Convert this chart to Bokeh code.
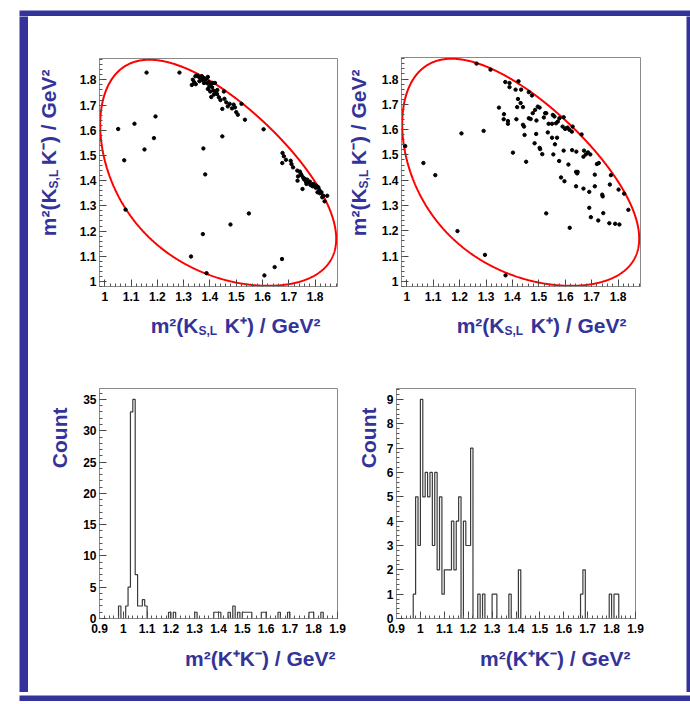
import numpy as np
from bokeh.plotting import figure
from bokeh.layouts import row, column
from bokeh.models import FixedTicker, CustomJSTickFormatter, Range1d, Spacer
from bokeh.core.properties import value
from bokeh.embed import file_html
from bokeh.resources import INLINE

# ---------------- constants (particle masses, GeV) ----------------
M_D0, M_KS, M_K = 1.86484, 0.497611, 0.493677

# ---------------- data ----------------
# top-left Dalitz plot: m2(KS,L K+) vs m2(KS,L K-)
tl_x = [1.051, 1.074, 1.113, 1.159, 1.284, 1.193, 1.187, 1.151, 1.079, 1.375, 1.382, 1.447,
        1.373, 1.328, 1.387, 1.478, 1.548, 1.604, 1.607, 1.646, 1.674, 1.533, 1.520,
        1.331, 1.335, 1.340, 1.345, 1.351, 1.358, 1.364, 1.369, 1.377, 1.377, 1.383, 1.389,
        1.396, 1.405, 1.411, 1.419, 1.392, 1.401, 1.408, 1.413, 1.421, 1.427, 1.434, 1.405,
        1.453, 1.455, 1.462, 1.468, 1.475, 1.484, 1.490, 1.495, 1.500, 1.506, 1.447,
        1.372, 1.360, 1.346, 1.398, 1.415, 1.440, 1.428, 1.392, 1.386,
        1.676, 1.681, 1.675, 1.689, 1.707, 1.710, 1.716, 1.732, 1.742, 1.735, 1.733, 1.748,
        1.754, 1.761, 1.765, 1.770, 1.776, 1.780, 1.782, 1.767, 1.752, 1.793, 1.799, 1.805,
        1.812, 1.816, 1.809, 1.824, 1.831, 1.846, 1.836, 1.827,
        1.745, 1.758, 1.790, 1.802, 1.818]
tl_y = [1.605, 1.481, 1.626, 1.829, 1.829, 1.655, 1.569, 1.524, 1.285, 1.528, 1.425, 1.576,
        1.188, 1.099, 1.033, 1.226, 1.270, 1.604, 1.024, 1.057, 1.089, 1.642, 1.705,
        1.780, 1.801, 1.791, 1.815, 1.817, 1.812, 1.808, 1.815, 1.807, 1.788, 1.801, 1.787,
        1.791, 1.787, 1.788, 1.788, 1.764, 1.754, 1.771, 1.758, 1.754, 1.744, 1.731, 1.732,
        1.754, 1.725, 1.711, 1.695, 1.705, 1.687, 1.702, 1.691, 1.672, 1.662, 1.685,
        1.800, 1.795, 1.783, 1.775, 1.742, 1.720, 1.760, 1.812, 1.805,
        1.510, 1.497, 1.470, 1.483, 1.479, 1.466, 1.453, 1.440, 1.436, 1.417, 1.400, 1.422,
        1.413, 1.407, 1.396, 1.404, 1.393, 1.396, 1.383, 1.387, 1.367, 1.387, 1.380, 1.380,
        1.374, 1.363, 1.354, 1.354, 1.340, 1.340, 1.318, 1.334,
        1.428, 1.405, 1.378, 1.372, 1.350]

# top-right Dalitz plot
tr_x = [0.994, 1.063, 1.108, 1.192, 1.207, 1.291, 1.296, 1.374, 1.264, 1.317, 1.349, 1.528, 1.617,
        1.373, 1.389, 1.389, 1.423, 1.412, 1.433, 1.462, 1.474, 1.421, 1.431, 1.418, 1.440,
        1.368, 1.367, 1.383, 1.383, 1.415, 1.440, 1.444, 1.446, 1.462, 1.469, 1.477, 1.486,
        1.496, 1.503, 1.491, 1.490, 1.484, 1.503, 1.505, 1.513, 1.519, 1.524, 1.528, 1.534,
        1.537, 1.550, 1.553, 1.559, 1.550, 1.561, 1.555, 1.565, 1.572, 1.578, 1.594, 1.590,
        1.599, 1.603, 1.609, 1.616, 1.625, 1.628, 1.662, 1.569, 1.577, 1.597, 1.584, 1.594,
        1.612, 1.626, 1.642, 1.641, 1.647, 1.645, 1.671, 1.678, 1.686, 1.695, 1.669, 1.720,
        1.727, 1.641, 1.669, 1.691, 1.712, 1.712, 1.740, 1.742, 1.769, 1.773, 1.802, 1.823,
        1.839, 1.691, 1.697, 1.725, 1.744, 1.767, 1.789, 1.805, 1.402, 1.452]
tr_y = [1.535, 1.468, 1.420, 1.199, 1.585, 1.595, 1.105, 1.024, 1.861, 1.837, 1.687, 1.269, 1.212,
        1.788, 1.784, 1.768, 1.791, 1.758, 1.758, 1.748, 1.735, 1.721, 1.705, 1.689, 1.689,
        1.661, 1.641, 1.634, 1.623, 1.641, 1.619, 1.612, 1.579, 1.645, 1.642, 1.665, 1.678,
        1.691, 1.687, 1.636, 1.583, 1.546, 1.528, 1.523, 1.503, 1.648, 1.665, 1.665, 1.589,
        1.623, 1.623, 1.658, 1.652, 1.568, 1.542, 1.502, 1.625, 1.632, 1.645, 1.649, 1.612,
        1.603, 1.605, 1.608, 1.599, 1.592, 1.612, 1.581, 1.568, 1.476, 1.396, 1.411, 1.517,
        1.462, 1.519, 1.513, 1.433, 1.433, 1.427, 1.517, 1.502, 1.510, 1.502, 1.493, 1.464,
        1.468, 1.376, 1.367, 1.354, 1.376, 1.422, 1.343, 1.336, 1.383, 1.420, 1.363, 1.347,
        1.283, 1.291, 1.254, 1.241, 1.270, 1.230, 1.228, 1.225, 1.509, 1.473]

# histograms of m2(K+K-): bins of 0.01 GeV2 from 0.9 to 1.9 (lower bin edge -> count)
hist_lo, hist_hi, hist_w = 0.9, 1.9, 0.01
bl_bin_lo = [0.98, 1.01, 1.02, 1.03, 1.04, 1.05, 1.06, 1.07, 1.08, 1.09, 1.19, 1.21, 1.30,
             1.38, 1.39, 1.40, 1.44, 1.46, 1.48, 1.50, 1.51, 1.52, 1.53, 1.58, 1.59, 1.65,
             1.69, 1.78, 1.79, 1.83]
bl_count = [2, 2, 5, 33, 35, 7, 2, 2, 3, 2, 1, 1, 1,
            1, 1, 1, 1, 2, 1, 1, 1, 1, 1, 1, 1, 1,
            1, 1, 1, 1]
br_bin_lo = [0.97, 0.98, 0.99, 1.00, 1.01, 1.02, 1.03, 1.04, 1.05, 1.06, 1.07, 1.08, 1.09,
             1.10, 1.11, 1.12, 1.13, 1.14, 1.15, 1.16, 1.18, 1.19, 1.20, 1.21, 1.24, 1.26,
             1.30, 1.31, 1.37, 1.41, 1.67, 1.68, 1.79, 1.81, 1.82]
br_count = [1, 5, 3, 9, 5, 6, 5, 6, 3, 6, 2, 5, 1,
            2, 2, 2, 4, 2, 4, 5, 4, 3, 3, 7, 1, 1,
            1, 1, 1, 2, 1, 2, 1, 1, 1]

# tick values
dalitz_ticks = [1.0, 1.1, 1.2, 1.3, 1.4, 1.5, 1.6, 1.7, 1.8]
kk_ticks = [0.9, 1.0, 1.1, 1.2, 1.3, 1.4, 1.5, 1.6, 1.7, 1.8, 1.9]
bl_count_ticks = [0, 5, 10, 15, 20, 25, 30, 35]
br_count_ticks = [0, 1, 2, 3, 4, 5, 6, 7, 8, 9]

# axis titles
title_x_head, title_sub, title_x_tail = "m\u00b2(K", "S,L", "K\u207a) / GeV\u00b2"
title_y_head, title_y_tail = "m\u00b2(K", "K\u207b) / GeV\u00b2"
title_kk = "m\u00b2(K\u207aK\u207b) / GeV\u00b2"
title_count = "Count"

# ---------------- style ----------------
BLUE = "#333399"
FONT = "Liberation Sans"
DAL_RANGE = (0.98, 1.885)
F_BIG, F_SUB = 21, 12
V_CORR = -12   # rotated text is drawn this many px right of its nominal baseline

# approximate advance widths (1/1000 em) for Liberation Sans Bold
W = {'m': 889, '(': 333, ')': 333, 'K': 722, 'S': 667, ',': 278, 'L': 611, ' ': 278,
     '/': 278, 'G': 778, 'e': 556, 'V': 667, '\u00b2': 333, '\u207a': 480, '\u207b': 330}


def text_w(s, size):
    return sum(W.get(c, 600) for c in s) * size / 1000.0


def minor_list(lo, hi, step):
    n = int(round((hi - lo) / step))
    return [round(lo + i * step, 4) for i in range(n + 1)]


def make_fig(fw, fh, left, right, top, bottom, xr, yr):
    p = figure(frame_width=fw, frame_height=fh, x_range=Range1d(*xr), y_range=Range1d(*yr),
               output_backend="svg", toolbar_location=None, tools="", title=None,
               min_border_left=left, min_border_right=right,
               min_border_top=top, min_border_bottom=bottom,
               background_fill_color="white", border_fill_color="white",
               outline_line_color="#8a8a8a", outline_line_width=1, frame_align=False)
    p.grid.visible = False
    fmt = CustomJSTickFormatter(code="return String(Math.round(tick*10)/10);")
    for ax in p.axis:
        ax.major_tick_in = 7
        ax.major_tick_out = 0
        ax.minor_tick_in = 3
        ax.minor_tick_out = 0
        ax.axis_line_color = "#8a8a8a"
        ax.major_tick_line_color = "#444444"
        ax.minor_tick_line_color = "#555555"
        ax.major_label_text_font = FONT
        ax.major_label_text_font_style = "bold"
        ax.major_label_text_font_size = "12px"
        ax.major_label_text_color = "black"
        ax.formatter = fmt
    p.xaxis.major_label_standoff = 5
    p.yaxis.major_label_standoff = 3
    return p


def plain_fig(w, h, color="white"):
    p = figure(width=w, height=h, x_range=Range1d(0, w), y_range=Range1d(0, h),
               output_backend="svg", toolbar_location=None, tools="", title=None,
               min_border=0, x_axis_location=None, y_axis_location=None,
               background_fill_color=color, border_fill_color=color, outline_line_color=None,
               frame_align=False)
    p.grid.visible = False
    return p


def put_text(p, x, y, t, size, align, vertical):
    p.text(x=[x], y=[y], text=[t], angle=(np.pi / 2 if vertical else 0.0),
           text_font=value(FONT), text_font_style="bold", text_font_size=value(f"{size}px"),
           text_color=BLUE, text_align=align, text_baseline="alphabetic")


def vtitle_fig(w, h, parts, top_end, base):
    """Rotated title reading bottom-to-top; top end at `top_end` px from the figure top,
    baseline at `base` px from the figure left."""
    p = plain_fig(w, h)
    gap = 0.22 * F_BIG
    widths = [text_w(t, F_BIG if k == 'n' else F_SUB) for t, k in parts]
    total = sum(widths) + (gap if len(parts) > 2 else 0)
    y_top = h - top_end
    y = y_top - total
    b = base + V_CORR
    for i, (t, k) in enumerate(parts):
        size = F_BIG if k == 'n' else F_SUB
        shift = -5 if k == 'sub' else 0
        if i == len(parts) - 1:
            put_text(p, b - shift, y_top, t, size, "right", True)
        else:
            put_text(p, b - shift, y, t, size, "left", True)
        y += widths[i]
        if k == 'sub':
            y += gap
    return p


def htitle_fig(w, h, parts, end, base):
    """Horizontal title whose right end is at `end` px, baseline `base` px from the top."""
    p = plain_fig(w, h)
    gap = 0.22 * F_BIG
    widths = [text_w(t, F_BIG if k == 'n' else F_SUB) for t, k in parts]
    total = sum(widths) + (gap if len(parts) > 2 else 0)
    x = end - total
    for i, (t, k) in enumerate(parts):
        size = F_BIG if k == 'n' else F_SUB
        shift = -5 if k == 'sub' else 0
        if i == len(parts) - 1:
            put_text(p, end, h - (base - shift), t, size, "right", False)
        else:
            put_text(p, x, h - (base - shift), t, size, "left", False)
        x += widths[i]
        if k == 'sub':
            x += gap
    return p


def dalitz_boundary(n=500):
    smin = (M_KS + M_K) ** 2
    smax = (M_D0 - M_K) ** 2
    t = np.linspace(0, np.pi, n)
    s = smin + (smax - smin) * (1 - np.cos(t)) / 2
    rs = np.sqrt(s)
    e1 = (s - M_K ** 2 + M_KS ** 2) / (2 * rs)
    e3 = (M_D0 ** 2 - s - M_K ** 2) / (2 * rs)
    p1 = np.sqrt(np.clip(e1 ** 2 - M_KS ** 2, 0, None))
    p3 = np.sqrt(np.clip(e3 ** 2 - M_K ** 2, 0, None))
    ymax = (e1 + e3) ** 2 - (p1 - p3) ** 2
    ymin = (e1 + e3) ** 2 - (p1 + p3) ** 2
    xs = np.concatenate([s, s[::-1], s[:1]])
    ys = np.concatenate([ymax, ymin[::-1], ymax[:1]])
    return xs, ys


def hist_outline(bin_lo, counts):
    nb = int(round((hist_hi - hist_lo) / hist_w))
    full = np.zeros(nb)
    for b, c in zip(bin_lo, counts):
        full[int(round((b - hist_lo) / hist_w))] = c
    xs, ys = [hist_lo], [0.0]
    for i in range(nb):
        lo = hist_lo + i * hist_w
        xs += [lo, lo + hist_w]
        ys += [full[i], full[i]]
    xs.append(hist_hi)
    ys.append(0.0)
    return xs, ys


parts_x = [(title_x_head, 'n'), (title_sub, 'sub'), (title_x_tail, 'n')]
parts_y = [(title_y_head, 'n'), (title_sub, 'sub'), (title_y_tail, 'n')]
parts_kk = [(title_kk, 'n')]
parts_count = [(title_count, 'n')]

bx, by = dalitz_boundary()
dal_minor = minor_list(0.98, 1.88, 0.02)
kk_minor = minor_list(0.9, 1.9, 0.02)


def dalitz_main(xs, ys, left, right, top, bottom, fw, fh):
    p = make_fig(fw, fh, left, right, top, bottom, DAL_RANGE, DAL_RANGE)
    for ax in (p.xaxis[0], p.yaxis[0]):
        ax.ticker = FixedTicker(ticks=dalitz_ticks, minor_ticks=dal_minor)
    p.line(bx, by, line_color="red", line_width=2)
    p.scatter(xs, ys, marker="circle", size=3.4, color="black")
    return p


def hist_main(bin_lo, counts, yticks, yminor, left, right, top, bottom, fw, fh):
    ymax = max(counts) * 1.05
    p = make_fig(fw, fh, left, right, top, bottom, (hist_lo, hist_hi), (0, ymax))
    p.xaxis[0].ticker = FixedTicker(ticks=kk_ticks, minor_ticks=kk_minor)
    p.yaxis[0].ticker = FixedTicker(ticks=yticks, minor_ticks=yminor)
    hx, hy = hist_outline(bin_lo, counts)
    p.line(hx, hy, line_color="#3a3a3a", line_width=1.2)
    return p


# top-left panel (319 x 338)
tl_main = dalitz_main(tl_x, tl_y, 25, 10, 42, 20, 238, 228)
tl_panel = row(vtitle_fig(46, 338, parts_y, 53, 32),
               column(tl_main, htitle_fig(273, 48, parts_x, 246, 19)))
# top-right panel (337 x 338)
tr_main = dalitz_main(tr_x, tr_y, 21, 46, 41, 20, 239, 229)
tr_panel = row(vtitle_fig(31, 338, parts_y, 53, 23),
               column(tr_main, htitle_fig(306, 48, parts_x, 248, 19)))
# bottom-left panel (319 x 338)
bl_main = hist_main(bl_bin_lo, bl_count, bl_count_ticks, minor_list(0, 36, 1),
                    23, 10, 34, 20, 238, 230)
bl_panel = row(vtitle_fig(48, 338, parts_count, 53, 43),
               column(bl_main, htitle_fig(271, 54, parts_kk, 259, 20)))
# bottom-right panel (337 x 338)
br_main = hist_main(br_bin_lo, br_count, br_count_ticks, minor_list(0, 9.4, 0.2),
                    12, 50, 34, 20, 239, 230)
br_panel = row(vtitle_fig(36, 338, parts_count, 53, 33),
               column(br_main, htitle_fig(301, 54, parts_kk, 247, 20)))

inner = column(row(tl_panel, tr_panel), row(bl_panel, br_panel))

framed = column(plain_fig(671, 9, BLUE),
                row(plain_fig(9, 676, BLUE), inner, plain_fig(6, 676, BLUE)),
                plain_fig(671, 9, BLUE))
layout = row(Spacer(width=19, height=10), column(Spacer(width=10, height=7), framed))

open("out.html", "w").write(file_html(layout, INLINE))
